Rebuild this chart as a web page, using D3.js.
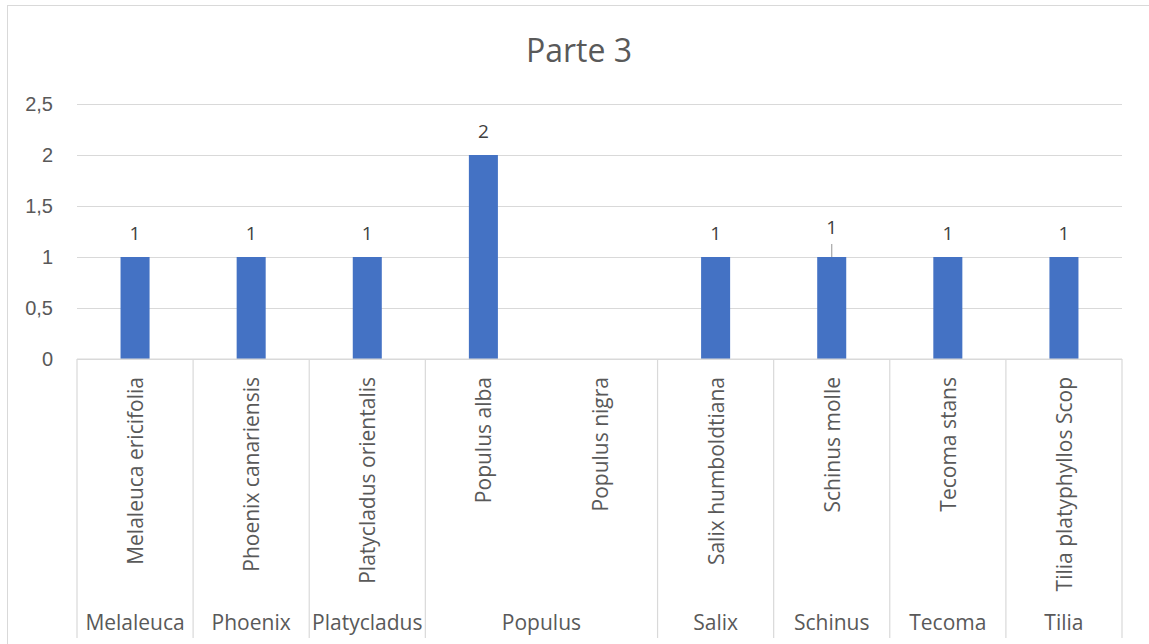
<!DOCTYPE html>
<html>
<head>
<meta charset="utf-8">
<script src="https://cdn.jsdelivr.net/npm/d3@7"></script>
<style>
  body { margin: 0; background: #fff; }
  svg { display: block; font-family: "Open Sans", "Noto Sans", sans-serif; }
</style>
</head>
<body>
<div id="chart"></div>
<script>
// data
const species = ['Melaleuca ericifolia', 'Phoenix canariensis', 'Platycladus orientalis', 'Populus alba',
  'Populus nigra', 'Salix humboldtiana', 'Schinus molle', 'Tecoma stans', 'Tilia platyphyllos Scop'];
const genus = ['Melaleuca', 'Phoenix', 'Platycladus', 'Populus', 'Populus', 'Salix', 'Schinus', 'Tecoma', 'Tilia'];
const counts = [1, 1, 1, 2, null, 1, 1, 1, 1];
const yTicks = [0, 0.5, 1, 1.5, 2, 2.5];
const title = 'Parte 3';

const width = 1149, height = 644;
const plot = { left: 77, right: 1122, top: 104, bottom: 359 };
const axisBottom = 638;

const svg = d3.select('#chart').append('svg')
  .attr('width', width)
  .attr('height', height);

// chart area border
svg.append('rect')
  .attr('x', 7.5).attr('y', 5.5)
  .attr('width', width + 10).attr('height', height + 10)
  .attr('fill', '#fff')
  .attr('stroke', '#d9d9d9');

const x = d3.scaleBand().domain(species).range([plot.left, plot.right]);
const y = d3.scaleLinear().domain([0, 2.5]).range([plot.bottom, plot.top]);

// gridlines
svg.append('g')
  .attr('transform', 'translate(' + plot.left + ',0)')
  .call(d3.axisLeft(y).tickValues(yTicks).tickSize(-(plot.right - plot.left)).tickFormat(''))
  .call(g => g.select('.domain').remove())
  .call(g => g.selectAll('line').attr('stroke', '#d9d9d9').attr('stroke-width', 1.2));

// y labels
svg.append('g')
  .attr('transform', 'translate(' + plot.left + ',0)')
  .call(d3.axisLeft(y).tickValues(yTicks).tickSize(0).tickPadding(24)
    .tickFormat(d => String(d).replace('.', ',')))
  .call(g => g.select('.domain').remove())
  .call(g => g.selectAll('text')
    .attr('fill', '#595959')
    .style('font-size', '20px'));

// bars
const rows = species.map((s, i) => ({ name: s, genus: genus[i], value: counts[i] }))
  .filter(d => d.value != null);
const barW = x.bandwidth() * 0.25;

svg.append('g')
  .selectAll('rect')
  .data(rows)
  .join('rect')
  .attr('x', d => x(d.name) + (x.bandwidth() - barW) / 2)
  .attr('y', d => y(d.value))
  .attr('width', barW)
  .attr('height', d => y(0) - y(d.value))
  .attr('fill', '#4472c4');

// data labels (the Schinus one was dragged up a bit, so it has a leader line)
const liftedLabel = 'Schinus molle';
const labels = svg.append('g');
labels.selectAll('text')
  .data(rows)
  .join('text')
  .attr('x', d => x(d.name) + x.bandwidth() / 2)
  .attr('y', d => y(d.value) - (d.name === liftedLabel ? 23 : 17))
  .attr('text-anchor', 'middle')
  .attr('fill', '#404040')
  .style('font-size', '19px')
  .text(d => d.value);
labels.selectAll('line')
  .data(rows.filter(d => d.name === liftedLabel))
  .join('line')
  .attr('x1', d => x(d.name) + x.bandwidth() / 2)
  .attr('x2', d => x(d.name) + x.bandwidth() / 2)
  .attr('y1', d => y(d.value) - 13)
  .attr('y2', d => y(d.value))
  .attr('stroke', '#a6a6a6')
  .attr('stroke-width', 1.2);

// category axis, two levels
const axis = svg.append('g');
axis.append('line')
  .attr('x1', plot.left).attr('x2', plot.right)
  .attr('y1', plot.bottom).attr('y2', plot.bottom)
  .attr('stroke', '#d9d9d9').attr('stroke-width', 1.2);

// group runs
const groups = [];
genus.forEach((g, i) => {
  const last = groups[groups.length - 1];
  if (last && last.name === g) last.end = species[i];
  else groups.push({ name: g, start: species[i], end: species[i] });
});

const edges = [plot.left].concat(groups.map(g => x(g.end) + x.bandwidth()));
axis.selectAll('line.sep')
  .data(edges)
  .join('line')
  .attr('class', 'sep')
  .attr('x1', d => d).attr('x2', d => d)
  .attr('y1', plot.bottom).attr('y2', axisBottom)
  .attr('stroke', '#d9d9d9').attr('stroke-width', 1.2);

axis.selectAll('text.leaf')
  .data(species)
  .join('text')
  .attr('class', 'leaf')
  .attr('transform', d => 'translate(' + (x(d) + x.bandwidth() / 2 + 8) + ',377) rotate(-90)')
  .attr('text-anchor', 'end')
  .attr('fill', '#595959')
  .style('font-size', '21px')
  .text(d => d);

axis.selectAll('text.group')
  .data(groups)
  .join('text')
  .attr('class', 'group')
  .attr('x', d => (x(d.start) + x(d.end) + x.bandwidth()) / 2)
  .attr('y', 630)
  .attr('text-anchor', 'middle')
  .attr('fill', '#595959')
  .style('font-size', '21px')
  .text(d => d.name);

// title
svg.append('text')
  .attr('x', 579)
  .attr('y', 62)
  .attr('text-anchor', 'middle')
  .attr('fill', '#595959')
  .style('font-size', '32px')
  .text(title);
</script>
</body>
</html>
